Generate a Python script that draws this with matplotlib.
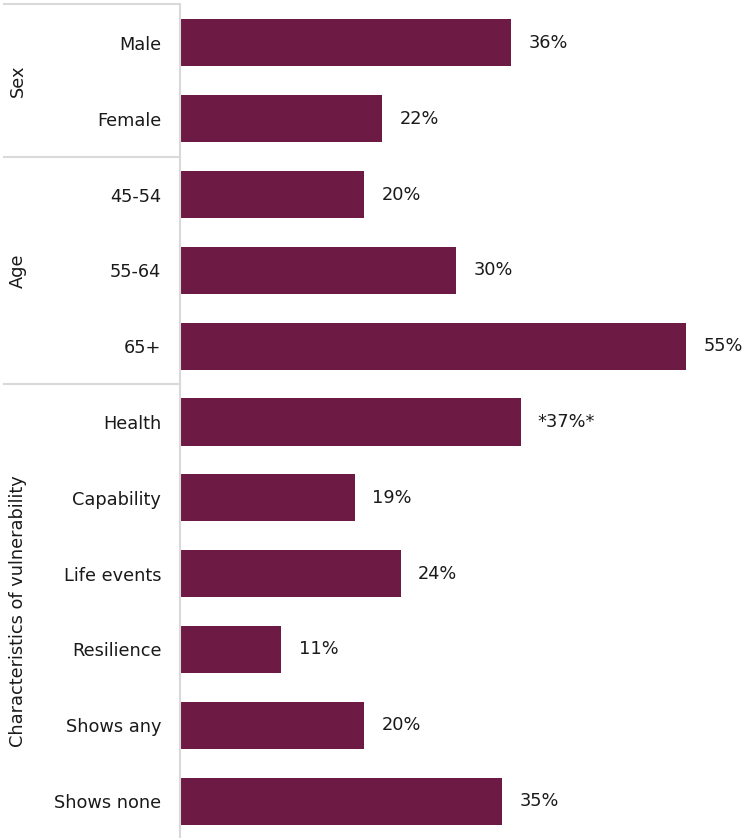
import matplotlib
matplotlib.use("Agg")
import matplotlib.pyplot as plt
import matplotlib.transforms as mtransforms

categories = ["Male", "Female", "45-54", "55-64", "65+", "Health", "Capability",
              "Life events", "Resilience", "Shows any", "Shows none"]
values = [36, 22, 20, 30, 55, 37, 19, 24, 11, 20, 35]
value_labels = ["36%", "22%", "20%", "30%", "55%", "*37%*", "19%", "24%", "11%", "20%", "35%"]
groups = ["Sex", "Age", "Characteristics of vulnerability"]
group_sizes = [2, 3, 6]

BAR = "#6d1b45"
GRID = "#d9d9d9"

plt.rcParams["font.family"] = ["DejaVu Sans"]

fig = plt.figure(figsize=(7.46, 8.38), dpi=100)
ax = fig.add_axes([180 / 746, -1 / 838, 566 / 746, 834 / 838])

n = len(categories)
ypos = list(range(n))
ax.barh(ypos, values, height=0.62, color=BAR)
ax.set_ylim(n - 0.5, -0.5)
ax.set_xlim(0, 61.5)

for y, v, lbl in zip(ypos, values, value_labels):
    ax.annotate(lbl, (v, y), xytext=(12.5, 0), textcoords="offset points",
                ha="left", va="center", fontsize=12.8, color="#1a1a1a")

ax.set_yticks(ypos)
ax.set_yticklabels(categories, fontsize=12.8, color="#1a1a1a")
ax.tick_params(axis="y", length=0, pad=13.5)
ax.set_xticks([])
for s in ["top", "right", "bottom"]:
    ax.spines[s].set_visible(False)
ax.spines["left"].set_color(GRID)
ax.spines["left"].set_linewidth(1.5)

# group separators and group labels
trans = mtransforms.blended_transform_factory(ax.transAxes, ax.transData)
left = -176 / 566
start = 0
for g, size in zip(groups, group_sizes):
    top = start - 0.5
    if start == 0:
        top -= 0.01
    ax.plot([left, 0], [top, top], transform=trans, color=GRID, lw=1.5, clip_on=False)
    mid = start + (size - 1) / 2
    ax.text(-162 / 566, mid, g, transform=trans, rotation=90, ha="center", va="center",
            fontsize=12.8, color="#1a1a1a")
    start += size

fig.savefig("out.png", dpi=100)
